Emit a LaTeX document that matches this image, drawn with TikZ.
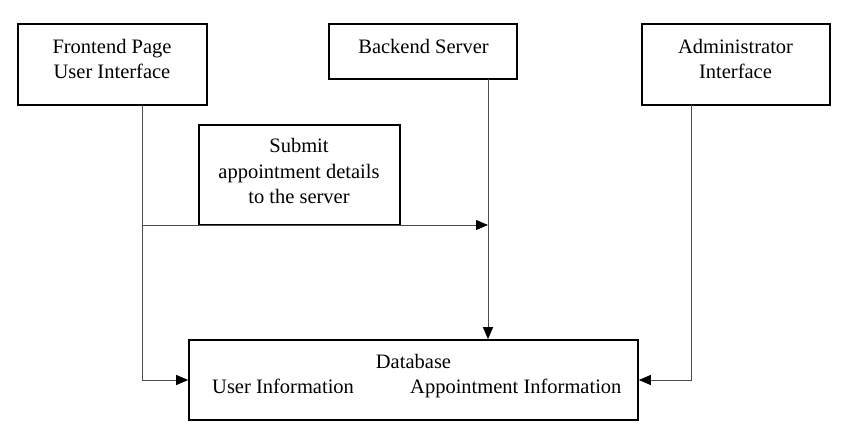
\documentclass[tikz,border=0pt]{standalone}
\usepackage{fontspec}
\setmainfont{Liberation Serif}
\usetikzlibrary{arrows.meta}
\tikzset{
  boxnode/.style={draw=black, line width=1.6pt, rectangle, inner sep=0pt},
  txt/.style={align=center, inner sep=0pt, anchor=base, font=\fontsize{20.5}{25.5}\selectfont},
  conn/.style={draw=black!70, line width=0.9pt, -{Triangle[length=12pt,width=10pt,black]}}
}
\begin{document}
\begin{tikzpicture}[x=1pt,y=-1pt]
\useasboundingbox (0,0) rectangle (842,435);
% boxes
\node[boxnode, minimum width=189pt, minimum height=81pt] (fe) at (112.5,64.5) {};
\node[boxnode, minimum width=188pt, minimum height=55pt] (be) at (423,51.5) {};
\node[boxnode, minimum width=188pt, minimum height=81pt] (ad) at (736,64.5) {};
\node[boxnode, minimum width=201pt, minimum height=100pt] (sub) at (299.5,175) {};
\node[boxnode, minimum width=449pt, minimum height=80pt] (db) at (413.5,380) {};
% texts (positioned at last baseline)
\node[txt] (feT) at (112,78.6) {Frontend Page\\User Interface};
\node[txt] (beT) at (423.5,53.3) {Backend Server};
\node[txt] (adT) at (735.5,78.9) {Administrator\\Interface};
\node[txt] (subT) at (299,203.7) {Submit\\appointment details\\to the server};
\node[txt] (dbT) at (413.5,368) {Database};
\node[txt, anchor=base west] (dbU) at (212,393) {User Information};
\node[txt, anchor=base west] (dbA) at (410,393) {Appointment Information};
% connector anchors
\coordinate (feout) at (142,105);
\coordinate (j1) at (142,225);
\coordinate (beout) at (488,79);
\coordinate (adout) at (691,105);
% connectors
\draw[conn] (feout) |- (db.west);
\draw[conn] (j1) -- (j1 -| beout);
\draw[conn] (beout) -- (beout |- db.north);
\draw[conn] (adout) |- (db.east);
\end{tikzpicture}
\end{document}
